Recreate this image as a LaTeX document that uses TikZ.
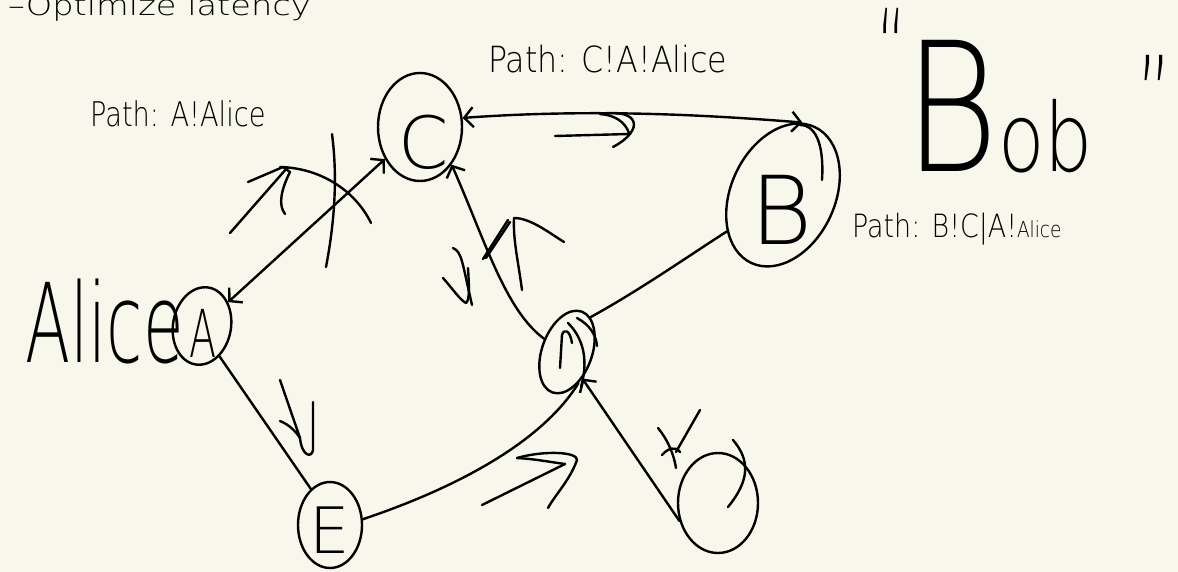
\documentclass[tikz,border=0pt]{standalone}
\usepackage{fontspec}
\setmainfont{DejaVu Sans ExtraLight}
\usetikzlibrary{shapes.geometric,arrows.meta}
\definecolor{paper}{RGB}{248,247,236}
\newcommand\fsz[1]{\fontsize{#1}{#1}\selectfont}
\begin{document}
\begin{tikzpicture}[x=1pt,y=-1pt,
  ink/.style={line width=2.4pt,line cap=round,line join=round},
  nd/.style={ellipse,draw,ink,inner sep=0pt},
  glyph/.style={inner sep=0pt},
  tipend/.style={-{Straight Barb[length=9pt,width=20pt]}},
  tipstart/.style={{Straight Barb[length=9pt,width=20pt]}-},
  tipboth/.style={{Straight Barb[length=9pt,width=20pt]}-{Straight Barb[length=9pt,width=20pt]}}]
\clip (0,0) rectangle (1178,572);
\fill[paper] (0,0) rectangle (1178,572);
\useasboundingbox (0,0) rectangle (1178,572);

% nodes
\node[nd,minimum width=58,minimum height=78,rotate=-10] (A) at (202,326) {};
\node[nd,minimum width=84,minimum height=108] (C) at (420,127) {};
\node[nd,minimum width=104,minimum height=150,rotate=-25] (B) at (783,195) {};
\node[nd,minimum width=50,minimum height=86,rotate=-20] (D) at (567,352) {};
\node[nd,minimum width=64,minimum height=86] (E) at (330,525) {};
\node[nd,minimum width=80,minimum height=100] (F) at (718,503) {};

% letters
\node[glyph,font=\fsz{66},xscale=.6] (Al) at (203,333) {A};
\node[glyph,font=\fsz{72}] (Cl) at (424,142) {C};
\node[glyph,font=\fsz{95}] (Bl) at (782,210) {B};
\node[glyph,font=\fsz{64}] (El) at (330,530) {E};

% connectors
\draw[ink,tipboth] (A) -- (C);
\draw[ink,tipboth] (C.12) .. controls (600,108) and (720,116) .. (B.100);
\draw[ink,tipstart] (C.-50) .. controls (485,240) and (505,310) .. (D.170);
\draw[ink] (B.238) .. controls (690,255) and (640,290) .. (D.76);
\draw[ink] (A.-50) -- (E.118);
\draw[ink] (E.10) .. controls (450,490) and (540,445) .. (D.-50);
\draw[ink,tipstart] (D.-40) -- (F.205);

% A-C direction mark and cross-out
\draw[ink] (230,233) -- (287,168);
\draw[ink] (248,182) -- (283,167) -- (290,172) .. controls (281,190) and (278,205) .. (285,214);
\draw[ink] (280,167) .. controls (320,168) and (355,190) .. (371,223);
\draw[ink] (332,134) .. controls (338,180) and (334,225) .. (326,267);
% C-B mark
\draw[ink] (555,136) -- (629,134);
\draw[ink] (600,114) .. controls (615,115) and (625,122) .. (629,133);
\draw[ink] (600,114) .. controls (640,108) and (645,130) .. (613,147);
% C-D marks
\draw[ink] (453,248) .. controls (462,252) and (462,262) .. (472,305);
\draw[ink] (443,278) .. controls (452,288) and (460,300) .. (466,303) .. controls (470,300) and (469,285) .. (468,268);
\draw[ink] (522,290) .. controls (518,260) and (513,240) .. (514,218);
\draw[ink] (483,259) -- (508,220);
\draw[ink] (486,258) -- (510,222);
\draw[ink] (514,218) .. controls (530,218) and (548,232) .. (564,242);
% A-E mark
\draw[ink] (280,380) -- (300,438);
\draw[ink] (280,421) .. controls (290,425) and (296,432) .. (300,438);
\draw[ink] (313,402) -- (313,450) .. controls (312,458) and (302,457) .. (300,438);
% E-D mark
\draw[ink] (482,505) -- (565,464);
\draw[ink] (517,458) .. controls (535,459) and (550,462) .. (565,464);
\draw[ink] (517,458) .. controls (545,450) and (578,452) .. (577,460) .. controls (570,480) and (555,495) .. (548,508);
% D-F mark
\draw[ink] (700,410) -- (676,452);
\draw[ink] (658,428) .. controls (668,440) and (674,455) .. (676,468);
\draw[ink] (662,455) .. controls (668,448) and (676,446) .. (680,452);
% inner strokes
\draw[ink] (560,368) -- (562,335) .. controls (564,328) and (570,330) .. (572,343);
\draw[ink] (568,323) .. controls (580,335) and (590,355) .. (581,387);
\draw[ink] (577,318) .. controls (590,325) and (596,335) .. (597,346);
\draw[ink] (733,440) .. controls (750,460) and (750,480) .. (728,507);
\draw[ink] (800,125) .. controls (818,125) and (824,150) .. (822,180);

% texts
\node[glyph,font=\fsz{28},xscale=1.2,anchor=base west] (top) at (8,16) {–Optimize latency};
\node[glyph,font=\fsz{34},xscale=.8,anchor=base west] (pA) at (90,127) {Path: A!Alice};
\node[glyph,font=\fsz{36},xscale=.88,anchor=base west] (pC) at (488,73) {Path: C!A!Alice};
\node[glyph,font=\fsz{32},xscale=.84,anchor=base west] (pB) at (852,238) {Path: B!C|A!{\fsz{22}Alice}};
\node[glyph,font=\fsz{110},xscale=.6,anchor=base west] (alice) at (25,362) {Alice};
\node[glyph,xscale=.8,anchor=base west] (bob) at (904,172) {{\fsz{180}B}{\fsz{95}ob}};
\node[glyph,font=\fsz{110},xscale=.5,anchor=north] (lq) at (892,8) {“};
\node[glyph,font=\fsz{110},xscale=.6,anchor=north] (rq) at (1155,55) {”};
\end{tikzpicture}
\end{document}
